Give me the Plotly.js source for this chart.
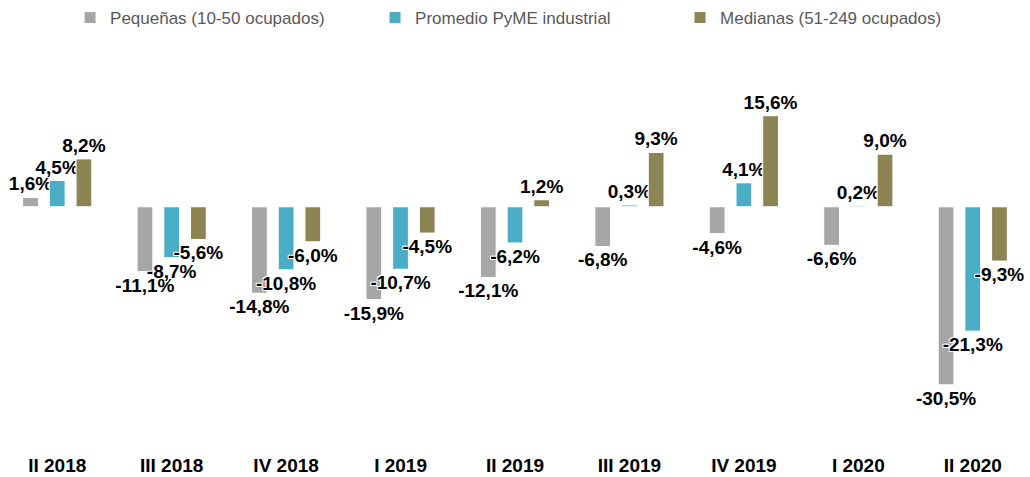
<!DOCTYPE html>
<html>
<head>
<meta charset="utf-8">
<script src="https://cdn.plot.ly/plotly-3.0.1.min.js"></script>
<style>html,body{margin:0;padding:0;background:#fff;}#chart{width:1030px;height:477px;}</style>
</head>
<body>
<div id="chart"></div>
<script>
var categories = ["II 2018", "III 2018", "IV 2018", "I 2019", "II 2019", "III 2019", "IV 2019", "I 2020", "II 2020"];
var pequenas = [1.6, -11.1, -14.8, -15.9, -12.1, -6.8, -4.6, -6.6, -30.5];
var promedio = [4.5, -8.7, -10.8, -10.7, -6.2, 0.3, 4.1, 0.2, -21.3];
var medianas = [8.2, -5.6, -6.0, -4.5, 1.2, 9.3, 15.6, 9.0, -9.3];
var seriesNames = ["Pequeñas (10-50 ocupados)", "Promedio PyME industrial", "Medianas (51-249 ocupados)"];

var narrow = "Liberation Sans Narrow, Arial Narrow, Liberation Sans, Arial, sans-serif";
var halo = "1px 1px 0 #fff, -1px -1px 0 #fff, 1px -1px 0 #fff, -1px 1px 0 #fff";
var colors = ["#A6A6A6", "#4BACC6", "#8C8553"];
var vals = [pequenas, promedio, medianas];

var traces = vals.map(function (v, i) {
  return {
    type: "bar",
    x: categories,
    y: v,
    name: seriesNames[i],
    marker: {color: colors[i], line: {color: "#ffffff", width: 1}},
    texttemplate: "%{y:.1f}%",
    textposition: "outside",
    constraintext: "none",
    cliponaxis: false,
    textfont: {family: narrow, size: 19, color: "#000", weight: "bold", shadow: halo},
    hoverinfo: "skip"
  };
});

var layout = {
  width: 1030,
  height: 477,
  margin: {l: 0, r: 0, t: 89, b: 25},
  paper_bgcolor: "#fff",
  plot_bgcolor: "#fff",
  separators: ",.",
  barmode: "group",
  bargap: 0.3,
  bargroupgap: 0.41,
  showlegend: true,
  legend: {
    orientation: "h",
    x: 0.068, xanchor: "left",
    y: 1.25, yanchor: "top",
    font: {family: narrow, size: 17, color: "#595959"},
    entrywidth: 260,
    entrywidthmode: "pixels",
    itemwidth: 30,
    traceorder: "normal"
  },
  xaxis: {
    type: "category",
    range: [-0.5, 8.5],
    showgrid: false, zeroline: false, showline: false, ticks: "",
    tickfont: {family: narrow, size: 19, color: "#000", weight: "bold"},
    fixedrange: true
  },
  yaxis: {
    range: [-42, 20],
    showgrid: false, zeroline: false, showline: false, showticklabels: false, ticks: "",
    fixedrange: true
  }
};

Plotly.newPlot("chart", traces, layout, {displayModeBar: false, staticPlot: true});
</script>
</body>
</html>
